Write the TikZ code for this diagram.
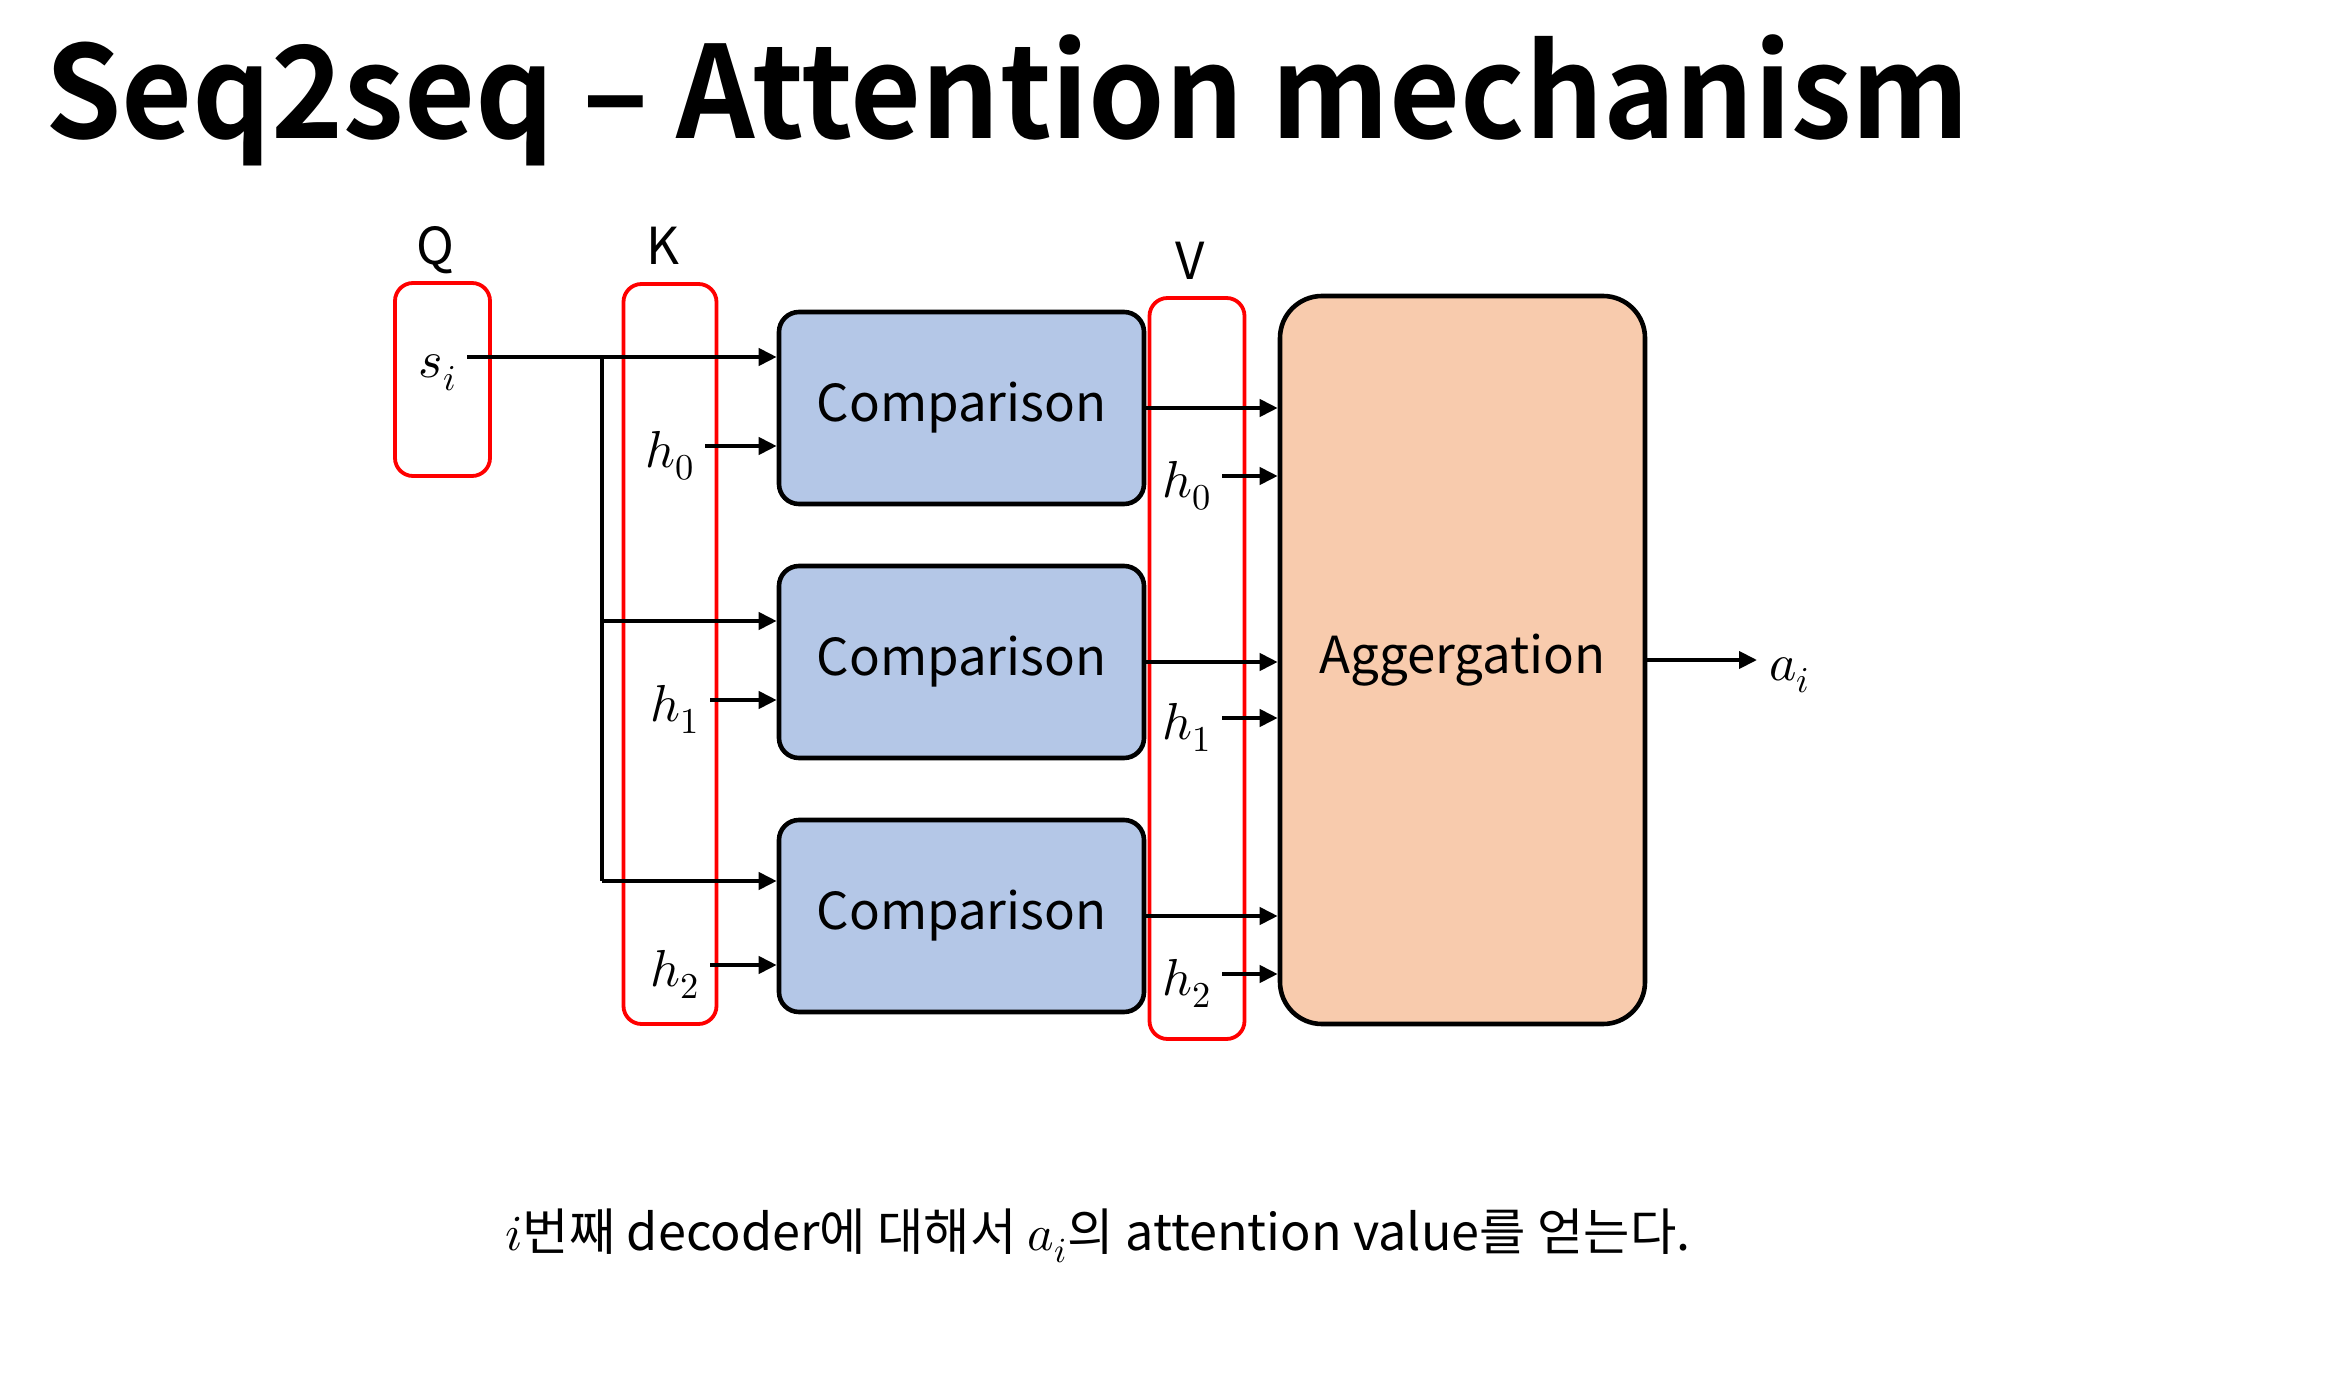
\documentclass[tikz,border=0pt]{standalone}
\usepackage{fontspec}
\usepackage{unicode-math}
\setmathfont{Latin Modern Math}
\newfontfamily\krfont{Noto Sans CJK KR}
\newfontfamily\krbold[FakeStretch=0.956]{Noto Sans CJK KR Bold}
\usetikzlibrary{arrows.meta,calc}
\definecolor{cmpblue}{HTML}{B4C7E7}
\definecolor{aggorange}{HTML}{F8CBAD}
\definecolor{grpred}{HTML}{FF0000}
\begin{document}
\begin{tikzpicture}[x=0.5pt,y=-0.5pt,
  grp/.style={draw=grpred, line width=1.9pt, rounded corners=9pt, inner sep=0pt},
  cmpbox/.style={draw=black, fill=cmpblue, line width=2.3pt, rounded corners=10pt,
    minimum width=182.5pt, minimum height=96pt, inner sep=0pt,
    font=\krfont\fontsize{25.5}{30}\selectfont},
  aggbox/.style={draw=black, fill=aggorange, line width=2.3pt, rounded corners=21pt,
    minimum width=182.5pt, minimum height=364pt, inner sep=0pt,
    font=\krfont\fontsize{25.5}{30}\selectfont},
  hdr/.style={font=\krfont\fontsize{25.5}{30}\selectfont, inner sep=0pt, anchor=base},
  var/.style={font=\fontsize{26}{30}\selectfont, inner sep=0pt},
  arr/.style={line width=2pt, -{Triangle[length=9pt,width=8.5pt]}},
  wire/.style={line width=2pt}]
\useasboundingbox (0,0) rectangle (2345,1385);

% title
\node[font=\krbold\fontsize{64}{70}\selectfont, anchor=base west, inner sep=0pt]
  (title) at (45,139) {Seq2seq – Attention mechanism};

% Q, K, V groups
\node[grp, minimum width=47.5pt, minimum height=96.5pt] (Qbox) at (442.5,379.5) {};
\node[grp, minimum width=46.5pt, minimum height=370pt] (Kbox) at (670,654) {};
\node[grp, minimum width=47.5pt, minimum height=370.5pt] (Vbox) at (1197,668.5) {};
\node[hdr] (Qlab) at (435,265) {Q};
\node[hdr] (Klab) at (663,265) {K};
\node[hdr] (Vlab) at (1190,280) {V};

% comparison and aggregation blocks
\node[cmpbox] (cmp1) at (961.5,408) {\raisebox{-1.5pt}{Comparison}};
\node[cmpbox] (cmp2) at (961.5,662) {\raisebox{-1.5pt}{Comparison}};
\node[cmpbox] (cmp3) at (961.5,916) {\raisebox{-1.5pt}{Comparison}};
\node[aggbox] (agg) at (1462.5,660) {\raisebox{-2pt}{Aggergation}};

% query s_i, fanned out to every comparison
\coordinate (siout) at (467,357);
\coordinate (br) at (602,357);
\node[var, anchor=base east] (si) at ($(siout)+(-10,21)$) {$s_i$};
\draw[arr] (siout) -- (siout -| cmp1.west);
\coordinate (br2) at (602,621);
\coordinate (br3) at (602,881);
\draw[wire] (br) -- (br3);
\draw[arr] (br2) -- (br2 -| cmp2.west);
\draw[arr] (br3) -- (br3 -| cmp3.west);

% keys
\coordinate (k0) at (705,446);
\coordinate (k1) at (710,700);
\coordinate (k2) at (710,965);
\node[var, anchor=base east] (kh0) at ($(k0)+(-10,21)$) {$h_0$};
\node[var, anchor=base east] (kh1) at ($(k1)+(-10,21)$) {$h_1$};
\node[var, anchor=base east] (kh2) at ($(k2)+(-10,21)$) {$h_2$};
\draw[arr] (k0) -- (k0 -| cmp1.west);
\draw[arr] (k1) -- (k1 -| cmp2.west);
\draw[arr] (k2) -- (k2 -| cmp3.west);

% scores into aggregation
\draw[arr] (cmp1.east) -- (cmp1.east -| agg.west);
\draw[arr] (cmp2.east) -- (cmp2.east -| agg.west);
\draw[arr] (cmp3.east) -- (cmp3.east -| agg.west);

% values
\coordinate (v0) at (1222,476);
\coordinate (v1) at (1222,718);
\coordinate (v2) at (1222,974);
\node[var, anchor=base east] (vh0) at ($(v0)+(-10,21)$) {$h_0$};
\node[var, anchor=base east] (vh1) at ($(v1)+(-10,21)$) {$h_1$};
\node[var, anchor=base east] (vh2) at ($(v2)+(-10,21)$) {$h_2$};
\draw[arr] (v0) -- (v0 -| agg.west);
\draw[arr] (v1) -- (v1 -| agg.west);
\draw[arr] (v2) -- (v2 -| agg.west);

% output
\coordinate (aout) at (1757,660);
\draw[arr] (agg.east) -- (aout);
\node[var, anchor=base west] (ai) at ($(aout)+(12,20)$) {$a_i$};

% caption
\node[font=\krfont\fontsize{25.2}{30}\selectfont, anchor=base, inner sep=0pt]
  (caption) at (1098,1250) {$i$번째 decoder에 대해서 $a_i$의 attention value를 얻는다.};
\end{tikzpicture}
\end{document}
